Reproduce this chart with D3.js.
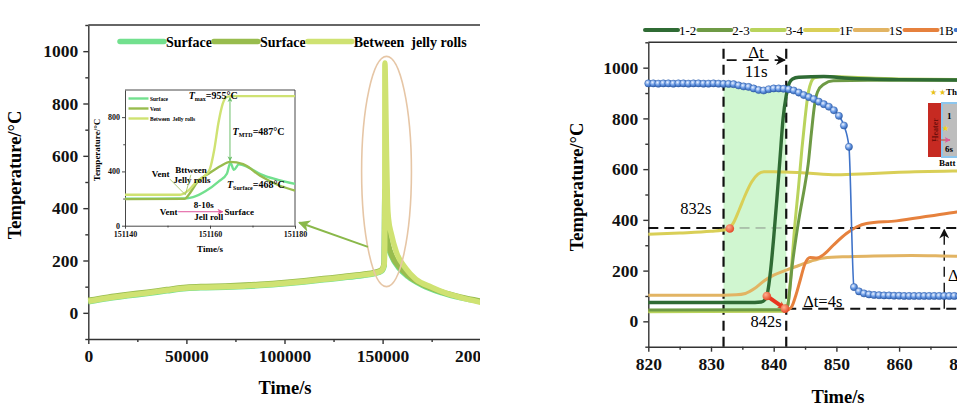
<!DOCTYPE html>
<html>
<head>
<meta charset="utf-8">
<script src="https://cdn.jsdelivr.net/npm/d3@7"></script>
<style>
  body { margin: 0; background: #fff; }
  svg { display: block; font-family: "Liberation Serif", "DejaVu Serif", serif; }
  .axis path, .axis line { stroke: #333; stroke-width: 1.4; }
  .axis text { font-size: 17.5px; font-weight: bold; fill: #111; font-family: "Liberation Serif", serif; }
  .inset .axis path, .inset .axis line { stroke-width: 0.9; }
  .inset .axis text { font-size: 8px; }
</style>
</head>
<body>
<svg id="chart" width="957" height="407"></svg>
<script>
// ---------- left panel: whole test (time s, temperature C)
var surfaceMain = [[0,42],[10000,55],[20000,65],[30000,74],[40000,84],[50000,93],[60000,96],[70000,98],[80000,101],[90000,105],[100000,111],[110000,118],[120000,126],[130000,134],[140000,143],[146000,150],[149500,160],[150800,180],[151165,462],[151600,320],[152900,255],[155000,210],[158000,174],[163000,138],[170000,106],[180000,77],[190000,57],[200000,43]];
var ventMain = [[0,48],[10000,60],[20000,70],[30000,79],[40000,89],[50000,98],[60000,101],[70000,103],[80000,106],[90000,110],[100000,116],[110000,123],[120000,131],[130000,139],[140000,148],[146000,155],[149500,165],[150800,190],[151165,468],[151600,320],[152900,262],[155000,215],[158000,180],[163000,142],[170000,110],[180000,80],[190000,60],[200000,45]];
var jellyMain = [[0,44],[10000,57],[20000,67],[30000,76],[40000,86],[50000,95],[60000,98],[70000,100],[80000,103],[90000,107],[100000,113],[110000,120],[120000,128],[130000,136],[140000,145],[146000,152],[149500,162],[150800,185],[151100,260],[151165,955],[151500,850],[152000,600],[152500,420],[153000,360],[154500,300],[157000,232],[162000,168],[167000,128],[175000,98],[182000,76],[190000,58],[200000,40]];

// inset: zoom around the runaway
var surfaceInset = [[151140,199],[151154,200],[151156,210],[151159,255],[151162,325],[151164,385],[151164.8,465],[151165.6,412],[151166.8,453],[151169,430],[151172,378],[151176,338],[151180,308]];
var ventInset = [[151140,196],[151154,198],[151155.5,250],[151157,320],[151160,390],[151162.5,440],[151164.7,470],[151167.8,453],[151171.8,368],[151176,300],[151180,259]];
var jellyInset = [[151140,228],[151153,228],[151155,262],[151157,330],[151159,375],[151160,420],[151161,560],[151162,760],[151163,900],[151164,950],[151165,955],[151180,955]];

var leftLegendLabels = ["Surface", "Surface", "Between  jelly rolls"];
var insetLegendLabels = ["Surface", "Vent", "Between  Jelly rolls"];
var leftTicksX = [0, 50000, 100000, 150000, 200000];
var leftMinorX = [25000, 75000, 125000, 175000];
var insetTicksX = [151140, 151160, 151180];
var insetMinorX = [151150, 151170];
var insetTicksY = [0, 400, 800];
var insetMinorY = [200, 600];

// ---------- right panel: thermocouples (time s, temperature C)
var t12 = [[820,74],[836,74],[838,76],[838.6,85],[839,110],[839.5,200],[840,330],[840.5,480],[841,640],[841.5,800],[842,890],[842.5,940],[843,955],[844,962],[848,965],[852,958],[860,953],[880,950]];
var t23 = [[820,45],[841.8,46],[842.2,60],[843,230],[844,400],[845,540],[845.5,620],[846,740],[846.5,850],[847,905],[848,935],[849.5,948],[855,950],[880,950]];
var t34 = [[820,38],[841.8,40],[842.3,70],[842.8,200],[843.3,360],[844,540],[844.5,680],[845,800],[845.5,900],[846,945],[846.5,960],[848,965],[860,955],[880,952]];
var t1F = [[820,343],[825,348],[830,355],[832.5,362],[833.5,385],[834.5,440],[835.5,500],[836.5,550],[837.5,580],[838.5,590],[840,590],[845,585],[850,578],[855,582],[860,588],[869,593],[880,595]];
var t1S = [[820,103],[830,103],[834,105],[835.5,110],[837,130],[838.5,160],[840,182],[842,202],[844,220],[846,238],[848,250],[852,255],[856,258],[862,260],[869,257],[880,256]];
var t1B = [[820,42],[838,42],[842,43],[842.8,55],[843.5,100],[844.2,160],[845,228],[845.8,252],[846.9,250],[847.9,262],[849.5,300],[851.6,346],[853.2,372],[854.8,386],[859.6,396],[864.9,415],[869.2,431],[880,450]];
var blueStart = 820, blueStep = 0.8;
var blueTemp = [938,938,937,938,938,937,938,938,937,938,938,937,937,938,937,936,936,
  935,930,926,924,918,912,910,915,918,918,917,915,910,902,892,884,876,866,856,846,832,810,772,688,135,118,110,106,104,
  103,102,102,101,101,100,100,100,100,100,100,100,100,100,100,100,100,
  100,100,100,100,100,100,100,100,100,100,100,100,100];
var onsetPoint = [[833,366]];
var spreadSegment = [[838.9,100],[841.8,50]];
var rightLegendLabels = ["1-2", "2-3", "3-4", "1F", "1S", "1B", "Heater"];
var rightTicksX = [820, 830, 840, 850, 860, 870, 880];
var rightMinorX = [825, 835, 845, 855, 865, 875];
var tempTicks = [0, 200, 400, 600, 800, 1000];
var tempMinor = [-100, 100, 300, 500, 700, 900, 1100];

var leftColors = ["#72e08e", "#98bc4e", "#cfe272"];
var rightColors = ["#2f6b34", "#6e9a45", "#b9d35c", "#d9cf57", "#e2b463", "#e6813d", "#3f73c9"];

var svg = d3.select("#chart");
var defs = svg.append("defs");

var ball = defs.append("radialGradient").attr("id", "ballBlue")
    .attr("cx", "38%").attr("cy", "35%").attr("r", "70%");
ball.append("stop").attr("offset", "0%").attr("stop-color", "#eef4ff");
ball.append("stop").attr("offset", "50%").attr("stop-color", "#6a9be6");
ball.append("stop").attr("offset", "100%").attr("stop-color", "#2c5aa8");

var ballRed = defs.append("radialGradient").attr("id", "ballRed")
    .attr("cx", "38%").attr("cy", "35%").attr("r", "70%");
ballRed.append("stop").attr("offset", "0%").attr("stop-color", "#ffb090");
ballRed.append("stop").attr("offset", "100%").attr("stop-color", "#e2401f");

function arrowMarker(id, color, size)
{
  defs.append("marker").attr("id", id)
      .attr("viewBox", "0 0 10 10").attr("refX", 9).attr("refY", 5)
      .attr("markerUnits", "userSpaceOnUse")
      .attr("markerWidth", size).attr("markerHeight", size)
      .attr("orient", "auto-start-reverse")
    .append("path").attr("d", "M0,0L10,5L0,10L3,5z").attr("fill", color);
}
arrowMarker("arrBlack", "#111", 10);
arrowMarker("arrGreen", "#8ab84a", 12);
arrowMarker("arrSmallGreen", "#6cbf6a", 5);
arrowMarker("arrPink", "#e0559b", 6);
arrowMarker("arrRed", "#e2401f", 8);

defs.append("clipPath").attr("id", "clipLeft")
  .append("rect").attr("x", 0).attr("y", 0).attr("width", 480).attr("height", 407);

function addAxes(g, x, y, xMajor, xMinor, yMajor, yMinor, big)
{
  var x0 = x.range()[0], x1 = x.range()[1];
  var yb = y(y.domain()[0]), yt = y(y.domain()[1]);
  var pad = big ? 6 : 3, sz = big ? 5 : 3;

  g.append("line").attr("x1", x0).attr("x2", x1).attr("y1", yt).attr("y2", yt)
      .attr("stroke", "#333").attr("stroke-width", big ? 1.4 : 0.9);
  g.append("line").attr("x1", x1).attr("x2", x1).attr("y1", yt).attr("y2", yb)
      .attr("stroke", "#333").attr("stroke-width", big ? 1.4 : 0.9);

  g.append("g").attr("class", "axis").attr("transform", "translate(0," + yb + ")")
      .call(d3.axisBottom(x).tickValues(xMajor).tickSize(sz).tickPadding(pad)
        .tickFormat(d3.format("d")).tickSizeOuter(0));
  g.append("g").attr("class", "axis").attr("transform", "translate(0," + yb + ")")
      .call(d3.axisBottom(x).tickValues(xMinor).tickSize(sz * 0.6).tickFormat(""))
      .select(".domain").remove();
  g.append("g").attr("class", "axis").attr("transform", "translate(" + x0 + ",0)")
      .call(d3.axisLeft(y).tickValues(yMajor).tickSize(sz).tickPadding(pad - 1)
        .tickFormat(d3.format("d")).tickSizeOuter(0));
  g.append("g").attr("class", "axis").attr("transform", "translate(" + x0 + ",0)")
      .call(d3.axisLeft(y).tickValues(yMinor).tickSize(sz * 0.6).tickFormat(""))
      .select(".domain").remove();
}

// =================== LEFT PANEL ===================
var xL = d3.scaleLinear().domain([0, 200000]).range([88.3, 480.7]);
var yL = d3.scaleLinear().domain([-100, 1100]).range([339, 25]);
var lineL = d3.line().x(function(d) { return xL(d[0]); }).y(function(d) { return yL(d[1]); })
    .curve(d3.curveMonotoneX);

var left = svg.append("g").attr("clip-path", "url(#clipLeft)");
addAxes(left, xL, yL, leftTicksX, leftMinorX, tempTicks, tempMinor, true);

[surfaceMain, ventMain, jellyMain].forEach(function(data, i) {
  left.append("path").datum(data)
      .attr("d", lineL)
      .attr("fill", "none")
      .attr("stroke", leftColors[i])
      .attr("stroke-width", 5.5)
      .attr("stroke-linejoin", "round");
});

// ellipse round the spike
left.append("ellipse")
    .attr("cx", xL(152000)).attr("cy", yL(540))
    .attr("rx", xL(152000) - xL(139300)).attr("ry", yL(100) - yL(540))
    .attr("fill", "none").attr("stroke", "#e6c6a6").attr("stroke-width", 1.6);

// green pointer arrow
left.append("line")
    .attr("x1", xL(142500)).attr("y1", yL(252))
    .attr("x2", xL(107500)).attr("y2", yL(345))
    .attr("stroke", "#8ab84a").attr("stroke-width", 2)
    .attr("marker-end", "url(#arrGreen)");

// legend
var lx = 120;
leftLegendLabels.forEach(function(lab, i) {
  left.append("line").attr("x1", lx).attr("x2", lx + 44).attr("y1", 41.5).attr("y2", 41.5)
      .attr("stroke", leftColors[i]).attr("stroke-width", 5.5).attr("stroke-linecap", "round");
  var t = left.append("text").attr("x", lx + 46).attr("y", 46.5)
      .style("font-size", "14px").style("font-weight", "bold").style("white-space", "pre")
      .text(lab);
  lx = lx + 46 + t.node().getComputedTextLength() + 2;
});

left.append("text")
    .attr("transform", "translate(21,175) rotate(-90)")
    .attr("text-anchor", "middle")
    .style("font-size", "18.5px").style("font-weight", "bold")
    .text("Temperature/°C");
left.append("text")
    .attr("x", 285).attr("y", 394)
    .attr("text-anchor", "middle")
    .style("font-size", "18.5px").style("font-weight", "bold")
    .text("Time/s");

// ---- inset
var xI = d3.scaleLinear().domain([151140, 151180]).range([125, 295]);
var yI = d3.scaleLinear().domain([0, 1000]).range([225.7, 90]);
var lineI = d3.line().x(function(d) { return xI(d[0]); }).y(function(d) { return yI(d[1]); })
    .curve(d3.curveMonotoneX);

var inset = left.append("g").attr("class", "inset");
inset.append("rect").attr("x", 125).attr("y", 90).attr("width", 170).attr("height", 135.7).attr("fill", "#fff");
addAxes(inset, xI, yI, insetTicksX, insetMinorX, insetTicksY, insetMinorY, false);

[surfaceInset, ventInset, jellyInset].forEach(function(data, i) {
  inset.append("path").datum(data)
      .attr("d", lineI)
      .attr("fill", "none")
      .attr("stroke", leftColors[i])
      .attr("stroke-width", 2.4);
});

insetLegendLabels.forEach(function(lab, i) {
  inset.append("line").attr("x1", 128.5).attr("x2", 148.5)
      .attr("y1", 98.5 + i * 10).attr("y2", 98.5 + i * 10)
      .attr("stroke", leftColors[i]).attr("stroke-width", 2.4);
  inset.append("text").attr("x", 150).attr("y", 100.5 + i * 10)
      .style("font-size", "5.5px").style("font-weight", "bold").style("white-space", "pre")
      .text(lab);
});

inset.append("text")
    .attr("transform", "translate(100,150) rotate(-90)")
    .attr("text-anchor", "middle")
    .style("font-size", "9px").style("font-weight", "bold")
    .text("Temperature/°C");
inset.append("text").attr("x", 210).attr("y", 252).attr("text-anchor", "middle")
    .style("font-size", "9px").style("font-weight", "bold").text("Time/s");

function subLabel(x, y, sub, rest)
{
  var t = inset.append("text").attr("x", x).attr("y", y)
      .style("font-size", "10px").style("font-weight", "bold");
  t.append("tspan").style("font-style", "italic").text("T");
  t.append("tspan").attr("dy", 2).style("font-size", "6px").text(sub);
  t.append("tspan").attr("dy", -2).text(rest);
}
subLabel(xI(151155), yI(930), "max", "=955°C");
subLabel(xI(151165.3), yI(670), "MTD", "=487°C");
subLabel(xI(151164), yI(275), "Surface", "=468°C");

inset.append("line")
    .attr("x1", xI(151164.7)).attr("x2", xI(151164.7))
    .attr("y1", yI(945)).attr("y2", yI(478))
    .attr("stroke", "#6cbf6a").attr("stroke-width", 1)
    .attr("marker-start", "url(#arrSmallGreen)").attr("marker-end", "url(#arrSmallGreen)");

var small = [["Vent", 151146.3, 356], ["Bttween", 151151.8, 392], ["Jelly rolls", 151151.4, 312],
             ["8-10s", 151156.2, 128], ["Vent", 151148.2, 78], ["Surface", 151163.4, 78], ["Jell roll", 151156.3, 42]];
small.forEach(function(s) {
  inset.append("text").attr("x", xI(s[1])).attr("y", yI(s[2]))
      .style("font-size", "9px").style("font-weight", "bold").text(s[0]);
});
inset.append("line")
    .attr("x1", xI(151152.5)).attr("x2", xI(151163))
    .attr("y1", yI(103)).attr("y2", yI(103))
    .attr("stroke", "#e0559b").attr("stroke-width", 1)
    .attr("marker-end", "url(#arrPink)");
[[151150.5, 345], [151155.5, 375]].forEach(function(p) {
  inset.append("line")
      .attr("x1", xI(p[0])).attr("y1", yI(p[1]))
      .attr("x2", xI(151154.2)).attr("y2", yI(228))
      .attr("stroke", "#9bbd5a").attr("stroke-width", 0.8);
});

// =================== RIGHT PANEL ===================
var xR = d3.scaleLinear().domain([820, 880]).range([648.3, 1024.5]);
var yR = d3.scaleLinear().domain([-100, 1100]).range([346.7, 42.3]);
var lineR = d3.line().x(function(d) { return xR(d[0]); }).y(function(d) { return yR(d[1]); })
    .curve(d3.curveMonotoneX);

var right = svg.append("g");

var blue = blueTemp.map(function(v, i) { return [blueStart + i * blueStep, v]; });

// green band between the two onsets
var band = blue.filter(function(d) { return d[0] >= 832 && d[0] <= 842; });
band.unshift([832, 920]);
band.push([842, 903]);
right.append("path").datum(band)
    .attr("d", d3.area()
      .x(function(d) { return xR(d[0]); })
      .y0(yR(40))
      .y1(function(d) { return yR(d[1] - 12); }))
    .attr("fill", "#d0f6d0");

addAxes(right, xR, yR, rightTicksX, rightMinorX, tempTicks, tempMinor, true);

// dashed guides
function dash(g, x1, y1, x2, y2, colour, w, arrow)
{
  var l = g.append("line").attr("x1", xR(x1)).attr("y1", yR(y1)).attr("x2", xR(x2)).attr("y2", yR(y2))
      .attr("stroke", colour).attr("stroke-width", w).attr("stroke-dasharray", "10,6");
  if (arrow) l.attr("marker-end", "url(#arrBlack)");
  return l;
}
dash(right, 832, -100, 832, 1100, "#111", 2.2);
dash(right, 842, -100, 842, 1100, "#111", 2.2);
dash(right, 820, 368, 832, 368, "#111", 2);
dash(right, 832, 368, 842, 368, "#777", 0.8);
dash(right, 842, 368, 880, 368, "#111", 2);
dash(right, 842, 50, 880, 50, "#111", 2);
dash(right, 832.5, 1030, 841.8, 1030, "#111", 1.8, true);
dash(right, 867.2, 50, 867.2, 362, "#111", 1.4, true);

var series = [t1S, t1B, t1F, t34, t23, t12];
var seriesIdx = [4, 5, 3, 2, 1, 0];
series.forEach(function(data, i) {
  right.append("path").datum(data)
      .attr("d", lineR)
      .attr("fill", "none")
      .attr("stroke", rightColors[seriesIdx[i]])
      .attr("stroke-width", seriesIdx[i] === 0 ? 3.4 : 3);
});

right.append("path").datum(blue)
    .attr("d", lineR)
    .attr("fill", "none").attr("stroke", rightColors[6]).attr("stroke-width", 1.6);
right.selectAll(".ball").data(blue).enter().append("circle")
    .attr("class", "ball")
    .attr("cx", function(d) { return xR(d[0]); })
    .attr("cy", function(d) { return yR(d[1]); })
    .attr("r", 3.6)
    .attr("fill", "url(#ballBlue)")
    .attr("stroke", "#2d5aa5").attr("stroke-width", 0.5);

// red markers
right.append("path").datum(spreadSegment)
    .attr("d", d3.line().x(function(d) { return xR(d[0]); }).y(function(d) { return yR(d[1]); }))
    .attr("stroke", "#e8351f").attr("stroke-width", 4).attr("fill", "none")
    .attr("marker-end", "url(#arrRed)");
right.selectAll(".red").data(onsetPoint.concat(spreadSegment)).enter().append("circle")
    .attr("class", "red")
    .attr("cx", function(d) { return xR(d[0]); })
    .attr("cy", function(d) { return yR(d[1]); })
    .attr("r", 4.3)
    .attr("fill", "url(#ballRed)");

// annotations
var notes = [["832s", 825.1, 425], ["842s", 836.3, -22], ["Δt=4s", 844.7, 58]];
notes.forEach(function(n) {
  right.append("text").attr("x", xR(n[1])).attr("y", yR(n[2]))
      .style("font-size", "16.5px").text(n[0]);
});
right.append("text").attr("x", xR(837.2)).attr("y", yR(1040)).attr("text-anchor", "middle")
    .style("font-size", "17px").text("Δt");
right.append("text").attr("x", xR(837.2)).attr("y", yR(963)).attr("text-anchor", "middle")
    .style("font-size", "17px").text("11s");
right.append("text").attr("x", xR(867.8)).attr("y", yR(160))
    .style("font-size", "17px").text("ΔT");

// legend
var rx = 645;
rightLegendLabels.forEach(function(lab, i) {
  right.append("line").attr("x1", rx).attr("x2", rx + 33).attr("y1", 30).attr("y2", 30)
      .attr("stroke", rightColors[i]).attr("stroke-width", 4).attr("stroke-linecap", "round");
  if (i === 6) {
    right.append("circle").attr("cx", rx + 16).attr("cy", 30).attr("r", 3.4)
        .attr("fill", "url(#ballBlue)").attr("stroke", "#2d5aa5").attr("stroke-width", 0.5);
  }
  var t = right.append("text").attr("x", rx + 34).attr("y", 35)
      .style("font-size", "13px").text(lab);
  rx = rx + 35 + t.node().getComputedTextLength() + 1;
});

// battery sketch (right edge, partly out of frame)
var sk = right.append("g");
sk.append("text").attr("x", 930).attr("y", 95).style("font-size", "8px").style("fill", "#e8c21a").text("★ ★");
sk.append("text").attr("x", 946).attr("y", 95).style("font-size", "9px").style("font-weight", "bold").text("Th");
sk.append("rect").attr("x", 928).attr("y", 103).attr("width", 14).attr("height", 54).attr("fill", "#c62a22");
sk.append("text").attr("transform", "translate(938,130) rotate(-90)").attr("text-anchor", "middle")
    .style("font-size", "8px").style("font-weight", "bold").style("fill", "#6e0f0c").text("Heater");
sk.append("rect").attr("x", 942).attr("y", 103).attr("width", 20).attr("height", 54)
    .attr("fill", "#bdbdbd").attr("stroke", "#8cc6ee").attr("stroke-width", 2);
sk.append("text").attr("x", 947).attr("y", 119).style("font-size", "9px").style("font-weight", "bold").text("1");
sk.append("text").attr("x", 945).attr("y", 152).style("font-size", "9px").style("font-weight", "bold").text("6s");
sk.append("text").attr("x", 942).attr("y", 131).style("font-size", "8px").style("fill", "#f4d31a").text("★");
sk.append("line").attr("x1", 936).attr("x2", 950).attr("y1", 140).attr("y2", 140)
    .attr("stroke", "#d23a2a").attr("stroke-width", 1).attr("marker-end", "url(#arrPink)");
sk.append("text").attr("x", 939).attr("y", 166).style("font-size", "9px").style("font-weight", "bold").text("Batt");

right.append("text")
    .attr("transform", "translate(583,187) rotate(-90)")
    .attr("text-anchor", "middle")
    .style("font-size", "18.5px").style("font-weight", "bold")
    .text("Temperature/°C");
right.append("text")
    .attr("x", 838).attr("y", 403)
    .attr("text-anchor", "middle")
    .style("font-size", "18.5px").style("font-weight", "bold")
    .text("Time/s");
</script>
</body>
</html>
